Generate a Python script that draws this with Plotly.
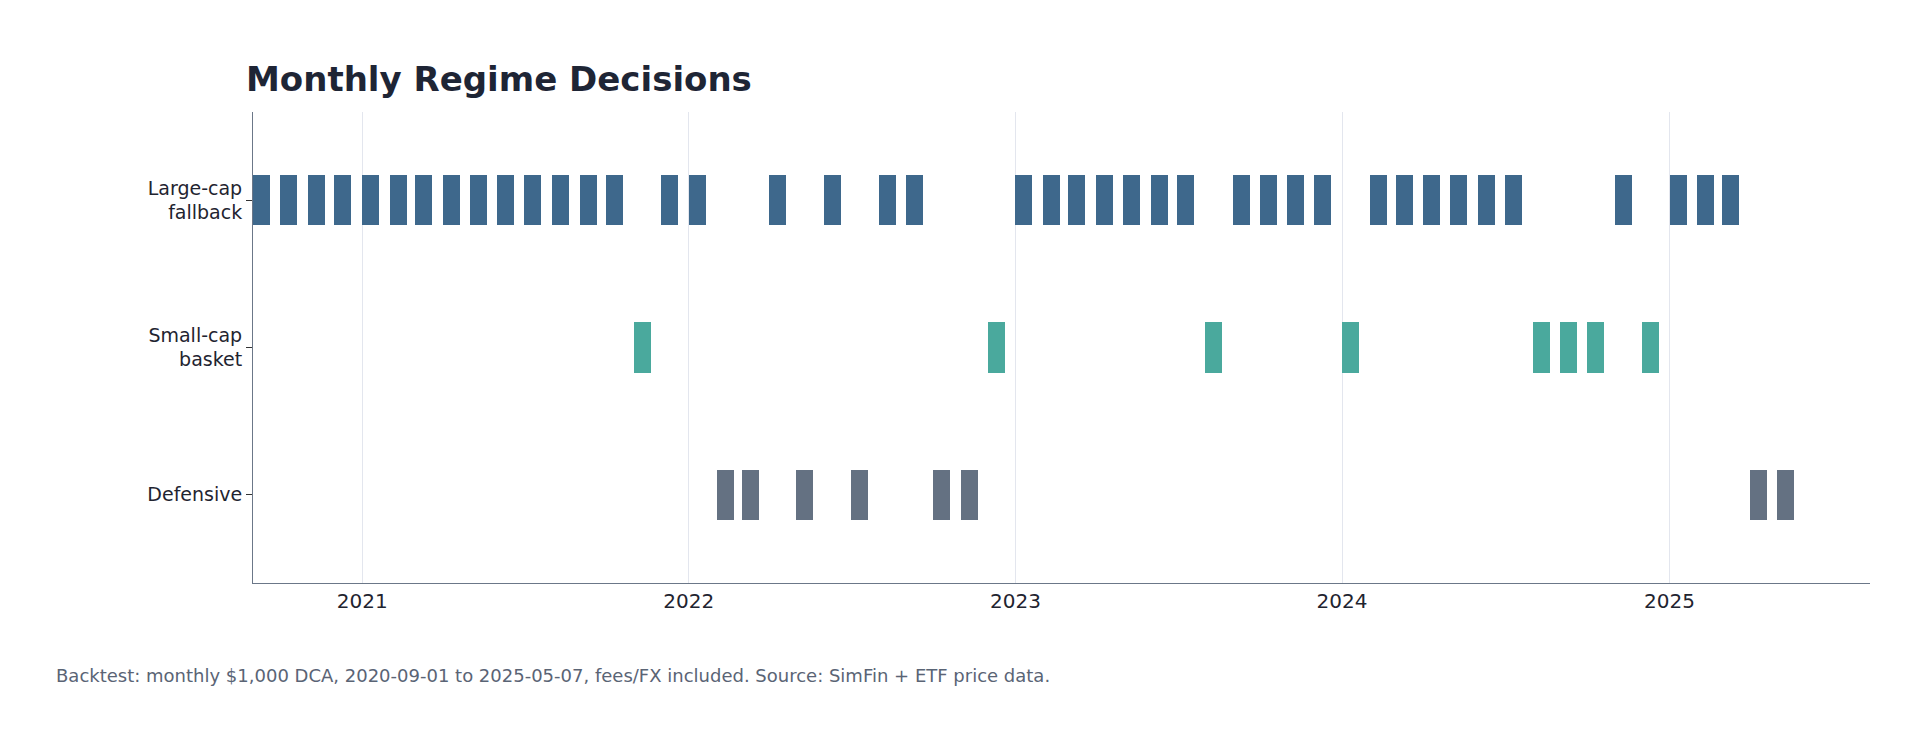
import plotly.graph_objects as go
import pandas as pd

large_months = ["2020-09","2020-10","2020-11","2020-12","2021-01","2021-02","2021-03","2021-04","2021-05","2021-06","2021-07","2021-08","2021-09","2021-10",
                "2021-12","2022-01","2022-04","2022-06","2022-08","2022-09",
                "2023-01","2023-02","2023-03","2023-04","2023-05","2023-06","2023-07",
                "2023-09","2023-10","2023-11","2023-12",
                "2024-02","2024-03","2024-04","2024-05","2024-06","2024-07",
                "2024-11","2025-01","2025-02","2025-03"]
small_months = ["2021-11","2022-12","2023-08","2024-01","2024-08","2024-09","2024-10","2024-12"]
defensive_months = ["2022-02","2022-03","2022-05","2022-07","2022-10","2022-11","2025-04","2025-05"]

categories = ["Large-cap fallback", "Small-cap basket", "Defensive"]
labels = ["Large-cap<br>fallback", "Small-cap<br>basket", "Defensive"]
colors = ["#3e688c", "#4aa99d", "#647182"]
DUR = 19 * 24 * 3600 * 1000

fig = go.Figure()
for cat, lab, months, col in zip(categories, labels, [large_months, small_months, defensive_months], colors):
    starts = [pd.Timestamp(m + "-01").strftime("%Y-%m-%d") for m in months]
    fig.add_trace(go.Bar(orientation="h", base=starts, x=[DUR]*len(starts), y=[lab]*len(starts),
                         width=0.34, marker=dict(color=col, line=dict(width=0)), showlegend=False,
                         hovertemplate=cat + "<br>%{base}<extra></extra>"))

fig.update_layout(
    width=1920, height=735, plot_bgcolor="white", paper_bgcolor="white",
    font=dict(family="DejaVu Sans", color="#1f2430", size=18),
    margin=dict(l=245, r=58, t=104, b=160),
    title=dict(text="<b>Monthly Regime Decisions</b>", x=238/1920, xanchor="left", y=1-71/735, yanchor="middle",
               font=dict(size=34, color="#1e2535")),
    barmode="overlay", bargap=0,
)
fig.update_xaxes(type="date", range=["2020-09-01", "2025-08-13"], showgrid=True, gridcolor="#e3e6ee", gridwidth=1,
                 showline=True, linecolor="#6b7788", linewidth=1, ticks="", dtick="M12", tick0="2021-01-01",
                 tickformat="%Y", tickfont=dict(size=20), zeroline=False)
fig.update_yaxes(type="category", categoryorder="array", categoryarray=labels[::-1], range=[-0.6, 2.6],
                 showgrid=False, showline=True, linecolor="#6b7788", linewidth=1, ticks="outside", ticklen=6,
                 tickcolor="#333", tickfont=dict(size=19), zeroline=False)
fig.add_annotation(text="Backtest: monthly $1,000 DCA, 2020-09-01 to 2025-05-07, fees/FX included. Source: SimFin + ETF price data.",
                   xref="paper", yref="paper", x=(46-245)/(1920-245-58), y=-(667-575)/(735-104-160), xanchor="left", yanchor="middle",
                   showarrow=False, font=dict(size=18, color="#5a6475"))
fig.write_html("out.html")
